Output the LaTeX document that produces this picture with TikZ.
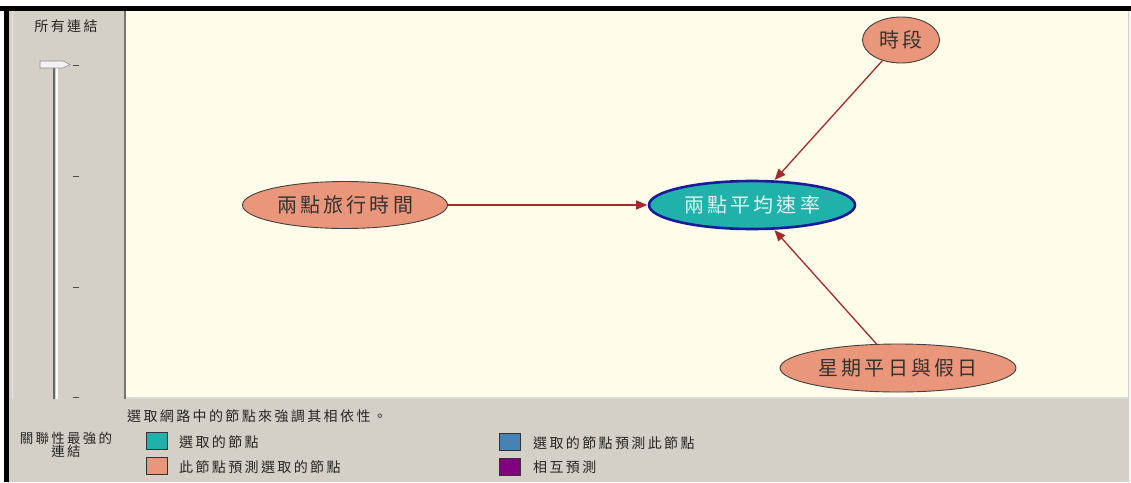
\documentclass[tikz,border=0pt]{standalone}
\usepackage{fontspec}
\usetikzlibrary{shapes.geometric,arrows.meta}
\newfontfamily\cjk[LetterSpace=16]{Noto Sans CJK TC}
\newfontfamily\cjksmall[LetterSpace=17]{Noto Sans CJK TC}
\definecolor{panelgray}{HTML}{D4D0C8}
\definecolor{canvascream}{HTML}{FFFDE9}
\definecolor{salmonfill}{HTML}{E9967A}
\definecolor{tealfill}{HTML}{20B2AA}
\definecolor{edgered}{HTML}{A52A2A}
\definecolor{selborder}{HTML}{1A1A9A}
\definecolor{steelfill}{HTML}{4682B4}
\definecolor{purplefill}{HTML}{800080}
\tikzset{
  netnode/.style={ellipse, inner sep=0pt, font=\cjk\fontsize{20}{24}\selectfont},
  predictor/.style={netnode, draw=black!75, line width=0.9pt, fill=salmonfill, text=black!80},
  selected/.style={netnode, draw=selborder, line width=2.6pt, fill=tealfill, text=white!88!teal},
  link/.style={draw=edgered, line width=1.3pt, -{Triangle[length=11pt,width=9pt]}, shorten >=0.5pt},
  uitext/.style={inner sep=0pt, font=\cjksmall\fontsize{14}{16}\selectfont, text=black!85},
  swatch/.style={draw=black!80, line width=0.8pt, minimum width=21pt, minimum height=17pt, inner sep=0pt},
  tick/.style={draw=black!70, line width=0.9pt}
}
\begin{document}
\begin{tikzpicture}[x=1pt,y=-1pt]
\useasboundingbox (0,0) rectangle (1131,482);
% window frame and areas
\fill[white] (0,0) rectangle (1131,482);
\fill[panelgray] (8,10) rectangle (1131,482);
\fill[canvascream] (126,11) rectangle (1128,397);
\draw[black!15, line width=1.5pt] (126,398) -- (1128,398);
\draw[white!92!gray, line width=2pt] (1129.5,10) -- (1129.5,482);
\fill[black] (0,6) rectangle (1131,11);
\fill[black] (4,6) rectangle (9,482);
% panel separator
\draw[black!55, line width=2pt] (124.5,11) -- (124.5,399);
\draw[white!80!gray, line width=1pt] (12,11) -- (12,399);
% slider
\node[uitext] (slidertitle) at (66,26) {所有連結};
\draw[black!60, line width=2pt] (53.5,66) -- (53.5,399);
\draw[white, line width=2pt] (56.5,66) -- (56.5,399);
\draw[fill=white!90!gray, draw=black!45, line width=0.6pt]
  (40,61) -- (63,61) -- (70,64.5) -- (63,68) -- (40,68) -- cycle;
\draw[tick] (73,65) -- (79,65);
\draw[tick] (73,176) -- (79,176);
\draw[tick] (73,287) -- (79,287);
\draw[tick] (73,397) -- (79,397);
% network
\node[selected, minimum width=206pt, minimum height=48pt] (speed) at (752,205) {兩點平均速率};
\node[predictor, minimum width=77pt, minimum height=46pt] (period) at (901,40) {時段};
\node[predictor, minimum width=205pt, minimum height=47pt] (travel) at (345,205) {兩點旅行時間};
\node[predictor, minimum width=236pt, minimum height=48pt] (weekday) at (898,368) {星期平日與假日};
\draw[link] (period) -- (speed);
\draw[link] (travel) -- (speed);
\draw[link] (weekday) -- (speed);
% legend
\node[uitext, anchor=west] (hint) at (127,416) {選取網路中的節點來強調其相依性。};
\node[uitext, align=center, font=\cjksmall\fontsize{13.5}{13}\selectfont] (strongest) at (66,445) {關聯性最強的\\連結};
\node[swatch, fill=tealfill] (swsel) at (156.5,441) {};
\node[uitext, anchor=west] (lbsel) at (179,442) {選取的節點};
\node[swatch, fill=salmonfill] (swpred) at (156.5,466) {};
\node[uitext, anchor=west] (lbpred) at (179,467) {此節點預測選取的節點};
\node[swatch, fill=steelfill] (swout) at (510,442) {};
\node[uitext, anchor=west] (lbout) at (533,443) {選取的節點預測此節點};
\node[swatch, fill=purplefill] (swmut) at (510,467) {};
\node[uitext, anchor=west] (lbmut) at (533,467) {相互預測};
\end{tikzpicture}
\end{document}
